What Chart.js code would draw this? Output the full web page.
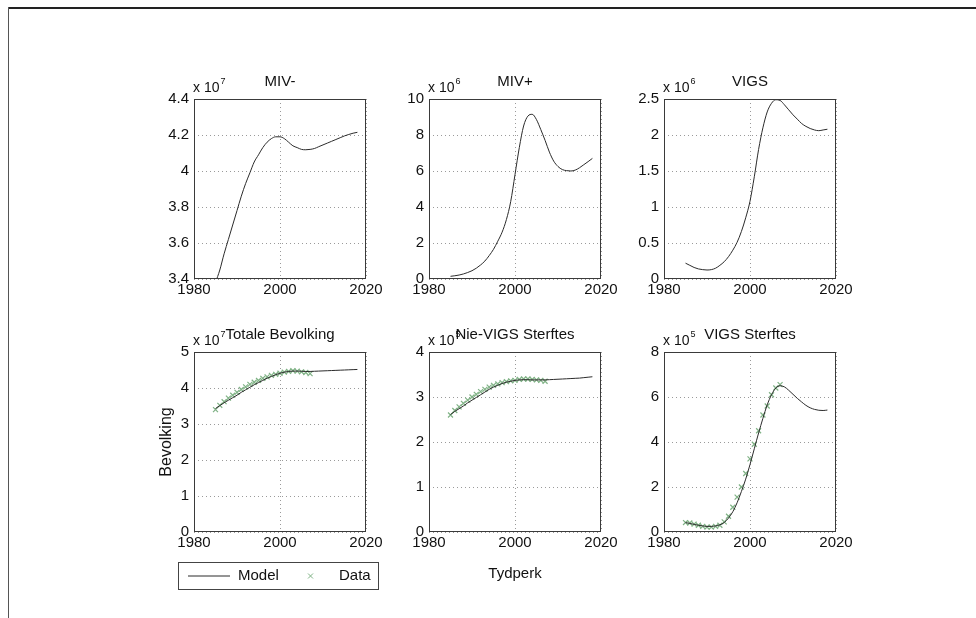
<!DOCTYPE html>
<html lang="af">
<head>
<meta charset="UTF-8">
<title>Model en Data</title>
<script src="https://cdn.jsdelivr.net/npm/chart.js"></script>
<style>
  body { margin: 0; background: #fff; }
  #page { position: relative; width: 976px; height: 618px; overflow: hidden; background: #fff; }
  #frameTop { position: absolute; left: 8px; top: 7px; width: 968px; border-top: 2px solid #222; }
  #frameLeft { position: absolute; left: 8px; top: 7px; height: 611px; border-left: 1px solid #555; }
  canvas { position: absolute; }
</style>
</head>
<body>
<div id="page">
  <div id="frameTop"></div>
  <div id="frameLeft"></div>
  <canvas id="c1"></canvas>
  <canvas id="c2"></canvas>
  <canvas id="c3"></canvas>
  <canvas id="c4"></canvas>
  <canvas id="c5"></canvas>
  <canvas id="c6"></canvas>
</div>

<script>
// jare
const modelYears = [1985, 1986, 1987, 1988, 1989, 1990, 1991, 1992, 1993, 1994, 1995, 1996, 1997, 1998, 1999, 2000, 2001,
  2002, 2003, 2004, 2005, 2006, 2007, 2008, 2009, 2010, 2011, 2012, 2013, 2014, 2015, 2016, 2017, 2018];
const dataYears = [1985, 1986, 1987, 1988, 1989, 1990, 1991, 1992, 1993, 1994, 1995, 1996, 1997, 1998, 1999, 2000, 2001,
  2002, 2003, 2004, 2005, 2006, 2007];

// model kurwes (in eenhede van die x 10^n etiket)
const mivMinModel = [3.38, 3.45, 3.54, 3.62, 3.70, 3.78, 3.86, 3.93, 3.99, 4.05, 4.09, 4.13, 4.16, 4.18, 4.19, 4.19, 4.18,
  4.16, 4.14, 4.13, 4.12, 4.118, 4.12, 4.125, 4.135, 4.145, 4.155, 4.165, 4.175, 4.185, 4.195, 4.203, 4.21, 4.215];
const mivPlusModel = [0.15, 0.18, 0.22, 0.28, 0.36, 0.46, 0.6, 0.78, 1.0, 1.3, 1.65, 2.1, 2.6, 3.3, 4.3, 5.8, 7.3,
  8.5, 9.05, 9.15, 8.85, 8.3, 7.7, 7.05, 6.55, 6.25, 6.08, 6.02, 6.0, 6.05, 6.18, 6.35, 6.52, 6.7];
const vigsModel = [0.22, 0.19, 0.16, 0.14, 0.13, 0.125, 0.13, 0.15, 0.19, 0.24, 0.31, 0.40, 0.51, 0.66, 0.85, 1.08, 1.42,
  1.80, 2.10, 2.32, 2.44, 2.49, 2.48, 2.42, 2.35, 2.28, 2.22, 2.16, 2.12, 2.09, 2.07, 2.06, 2.07, 2.08];
const totaalModel = [3.43, 3.51, 3.59, 3.66, 3.73, 3.80, 3.88, 3.95, 4.02, 4.09, 4.15, 4.21, 4.27, 4.32, 4.37, 4.41, 4.44,
  4.46, 4.47, 4.47, 4.465, 4.46, 4.46, 4.465, 4.47, 4.475, 4.48, 4.485, 4.49, 4.495, 4.5, 4.505, 4.51, 4.515];
const nieVigsModel = [2.61, 2.68, 2.74, 2.80, 2.87, 2.93, 2.99, 3.05, 3.11, 3.17, 3.22, 3.26, 3.30, 3.33, 3.35, 3.37, 3.38,
  3.385, 3.385, 3.38, 3.38, 3.38, 3.38, 3.385, 3.39, 3.395, 3.40, 3.405, 3.41, 3.415, 3.42, 3.43, 3.44, 3.45];
const vigsSterfModel = [0.42, 0.38, 0.34, 0.30, 0.27, 0.25, 0.25, 0.27, 0.32, 0.42, 0.62, 0.90, 1.30, 1.80, 2.35, 3.00, 3.70,
  4.40, 5.05, 5.65, 6.10, 6.40, 6.50, 6.45, 6.30, 6.12, 5.94, 5.78, 5.63, 5.52, 5.45, 5.41, 5.40, 5.42];

// waargenome data
const totaalData = [3.40, 3.52, 3.62, 3.72, 3.80, 3.88, 3.96, 4.03, 4.10, 4.16, 4.21, 4.27, 4.31, 4.35, 4.38, 4.41, 4.44,
  4.46, 4.48, 4.47, 4.45, 4.43, 4.40];
const nieVigsData = [2.60, 2.70, 2.78, 2.86, 2.93, 3.00, 3.06, 3.12, 3.17, 3.22, 3.26, 3.29, 3.32, 3.34, 3.36, 3.37, 3.39,
  3.40, 3.40, 3.39, 3.38, 3.37, 3.35];
const vigsSterfData = [0.42, 0.40, 0.35, 0.30, 0.25, 0.22, 0.22, 0.25, 0.30, 0.45, 0.70, 1.10, 1.55, 2.00, 2.60, 3.25, 3.90,
  4.50, 5.20, 5.60, 6.10, 6.40, 6.55];

// as merkers
const xTicks = [1980, 2000, 2020];
const mivMinTicks = [3.4, 3.6, 3.8, 4, 4.2, 4.4];
const mivPlusTicks = [0, 2, 4, 6, 8, 10];
const vigsTicks = [0, 0.5, 1, 1.5, 2, 2.5];
const totaalTicks = [0, 1, 2, 3, 4, 5];
const nieVigsTicks = [0, 1, 2, 3, 4];
const vigsSterfTicks = [0, 2, 4, 6, 8];

const FONT = '"Liberation Sans", Arial, Helvetica, sans-serif';
Chart.defaults.font.family = FONT;
Chart.defaults.font.size = 15;
Chart.defaults.color = '#111';

// plot grootte en kantlyne van elke canvas
const PW = 172, PH = 180, ML = 50, MT = 30, MR = 24, MB = 26;

// MATLAB-agtige boks, titel, eksponent, etikette en legende
const matlabBox = {
  id: 'matlabBox',
  afterDraw(chart, args, o) {
    const ctx = chart.ctx;
    const a = chart.chartArea;
    ctx.save();
    ctx.strokeStyle = '#3a3a3a';
    ctx.lineWidth = 1;
    ctx.strokeRect(a.left + 0.5, a.top + 0.5, a.right - a.left - 1, a.bottom - a.top - 1);

    ctx.fillStyle = '#111';
    ctx.textBaseline = 'middle';
    ctx.textAlign = 'left';
    ctx.font = '14px ' + FONT;
    ctx.fillText('x 10', a.left - 1, a.top - 11);
    const w = ctx.measureText('x 10').width;
    ctx.font = '9px ' + FONT;
    ctx.fillText(o.exp, a.left + w, a.top - 17);

    ctx.textAlign = 'center';
    ctx.font = '15px ' + FONT;
    ctx.fillText(o.title, (a.left + a.right) / 2, a.top - 17);

    if (o.xLabel) {
      ctx.fillText(o.xLabel, (a.left + a.right) / 2, a.bottom + 42);
    }
    if (o.yLabel) {
      ctx.save();
      ctx.font = '16px ' + FONT;
      ctx.translate(a.left - 27, (a.top + a.bottom) / 2);
      ctx.rotate(-Math.PI / 2);
      ctx.fillText(o.yLabel, 0, 0);
      ctx.restore();
    }
    if (o.legend) {
      const ds = chart.data.datasets;
      const bx = a.left - 16, by = a.bottom + 30, bw = 200, bh = 27;
      ctx.strokeStyle = '#444';
      ctx.strokeRect(bx + 0.5, by + 0.5, bw, bh);
      const cy = by + bh / 2 + 0.5;
      ctx.strokeStyle = ds[0].borderColor;
      ctx.beginPath();
      ctx.moveTo(bx + 10, cy);
      ctx.lineTo(bx + 52, cy);
      ctx.stroke();
      ctx.textAlign = 'left';
      ctx.fillStyle = '#111';
      ctx.fillText(ds[0].label, bx + 60, cy);
      ctx.strokeStyle = ds[1].borderColor;
      ctx.beginPath();
      ctx.moveTo(bx + 130, cy - 2.5); ctx.lineTo(bx + 135, cy + 2.5);
      ctx.moveTo(bx + 135, cy - 2.5); ctx.lineTo(bx + 130, cy + 2.5);
      ctx.stroke();
      ctx.fillText(ds[1].label, bx + 161, cy);
    }
    ctx.restore();
  }
};

function toPoints(xs, ys) {
  return xs.map((x, i) => ({ x: x, y: ys[i] }));
}

function maakPaneel(id, plotLeft, plotTop, cfg) {
  const canvas = document.getElementById(id);
  const mb = cfg.bottomMargin || MB;
  canvas.width = ML + PW + MR;
  canvas.height = MT + PH + mb;
  canvas.style.left = (plotLeft - ML) + 'px';
  canvas.style.top = (plotTop - MT) + 'px';

  const datasets = [{
    label: 'Model',
    data: toPoints(modelYears, cfg.model),
    showLine: true,
    borderColor: '#2b2b2b',
    borderWidth: 1,
    pointRadius: 0,
    cubicInterpolationMode: 'monotone',
    order: 0
  }];
  if (cfg.data) {
    datasets.push({
      label: 'Data',
      data: toPoints(dataYears, cfg.data),
      showLine: false,
      pointStyle: 'crossRot',
      pointRadius: 3.5,
      borderColor: '#7fb285',
      borderWidth: 1.2,
      order: 1
    });
  }

  new Chart(canvas.getContext('2d'), {
    type: 'scatter',
    data: { datasets: datasets },
    options: {
      responsive: false,
      animation: false,
      layout: { padding: { left: 0, top: MT, right: MR, bottom: mb - MB } },
      plugins: {
        legend: { display: false },
        tooltip: { enabled: false },
        matlabBox: { title: cfg.title, exp: cfg.exp, xLabel: cfg.xLabel, yLabel: cfg.yLabel, legend: cfg.legend }
      },
      scales: {
        x: {
          type: 'linear',
          min: 1980,
          max: 2020,
          afterBuildTicks: s => { s.ticks = xTicks.map(v => ({ value: v })); },
          afterFit: s => { s.height = MB; },
          ticks: { padding: 2, maxRotation: 0, autoSkip: false, callback: v => String(v) },
          grid: { color: '#9a9a9a', drawTicks: false },
          border: { display: false, dash: [1, 3] }
        },
        y: {
          min: cfg.ticks[0],
          max: cfg.ticks[cfg.ticks.length - 1],
          afterBuildTicks: s => { s.ticks = cfg.ticks.map(v => ({ value: v })); },
          afterFit: s => { s.width = ML; },
          ticks: { padding: 5, autoSkip: false, callback: v => String(v) },
          grid: { color: '#9a9a9a', drawTicks: false },
          border: { display: false, dash: [1, 3] }
        }
      }
    },
    plugins: [matlabBox]
  });
}

maakPaneel('c1', 194, 99, { title: 'MIV-', exp: '7', model: mivMinModel, ticks: mivMinTicks });
maakPaneel('c2', 429, 99, { title: 'MIV+', exp: '6', model: mivPlusModel, ticks: mivPlusTicks });
maakPaneel('c3', 664, 99, { title: 'VIGS', exp: '6', model: vigsModel, ticks: vigsTicks });
maakPaneel('c4', 194, 352, { title: 'Totale Bevolking', exp: '7', model: totaalModel, data: totaalData,
  ticks: totaalTicks, yLabel: 'Bevolking', legend: true, bottomMargin: 70 });
maakPaneel('c5', 429, 352, { title: 'Nie-VIGS Sterftes', exp: '5', model: nieVigsModel, data: nieVigsData,
  ticks: nieVigsTicks, xLabel: 'Tydperk', bottomMargin: 70 });
maakPaneel('c6', 664, 352, { title: 'VIGS Sterftes', exp: '5', model: vigsSterfModel, data: vigsSterfData,
  ticks: vigsSterfTicks, bottomMargin: 70 });
</script>
</body>
</html>
